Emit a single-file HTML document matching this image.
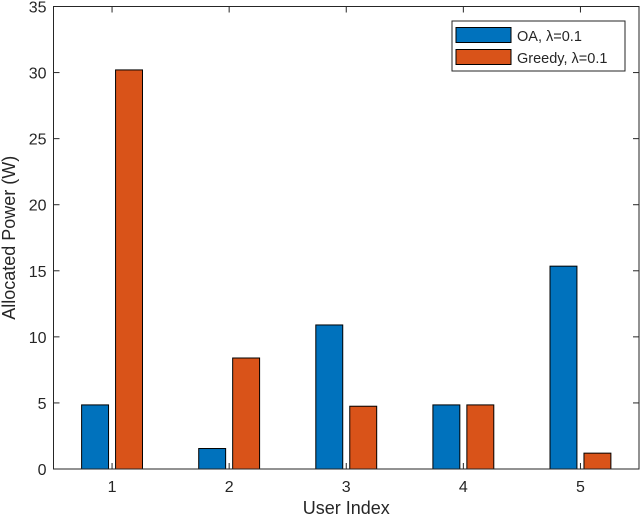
<!DOCTYPE html>
<html><head><meta charset="utf-8"><style>
body{margin:0;background:#fff}
text{font-family:"Liberation Sans",Arial,sans-serif;fill:#262626}
</style></head><body>
<svg id="chart" width="640" height="522" viewBox="0 0 640 522" xmlns="http://www.w3.org/2000/svg">
<rect width="640" height="522" fill="#fff"/>
<g id="plot"></g>
</svg>
<script>
const categories = [1, 2, 3, 4, 5];
const oaValues = [4.85, 1.55, 10.9, 4.85, 15.35];
const greedyValues = [30.2, 8.4, 4.75, 4.85, 1.2];
const yTicks = [0, 5, 10, 15, 20, 25, 30, 35];
const seriesNames = ["OA, \u03bb=0.1", "Greedy, \u03bb=0.1"];

const L = 53.5, R = 639, T = 6.5, B = 469;
const ns = "http://www.w3.org/2000/svg";
const g = document.getElementById('plot');
const x = v => L + (v - 0.5) / 5 * (R - L);
const y = v => B - v / 35 * (B - T);
function mk(tag, attrs, parent) {
  const e = document.createElementNS(ns, tag);
  for (const k in attrs) e.setAttribute(k, attrs[k]);
  (parent || g).appendChild(e);
  return e;
}
const bw = 0.23, off = 0.145;
categories.forEach((c, i) => {
  const b1 = mk('rect', {x: x(c - off - bw/2), y: y(oaValues[i]), width: x(bw) - x(0), height: y(0) - y(oaValues[i]), fill: '#0072BD', stroke: '#000', 'stroke-width': 1});
  
  
  const b2 = mk('rect', {x: x(c + off - bw/2), y: y(greedyValues[i]), width: x(bw) - x(0), height: y(0) - y(greedyValues[i]), fill: '#D95319', stroke: '#000', 'stroke-width': 1});
  
  
});
const box = mk('rect', {x: L, y: T, width: R - L, height: B - T, fill: 'none', stroke: '#262626', 'stroke-width': 1});


categories.forEach(c => {
  mk('line', {x1: x(c), x2: x(c), y1: B, y2: B - 6, stroke: '#262626'});
  mk('line', {x1: x(c), x2: x(c), y1: T, y2: T + 6, stroke: '#262626'});
  const t = mk('text', {x: x(c), y: B + 23, 'text-anchor': 'middle', 'font-size': 16});
  t.textContent = c;
  
  
});
yTicks.forEach(v => {
  mk('line', {x1: L, x2: L + 6, y1: y(v), y2: y(v), stroke: '#262626'});
  mk('line', {x1: R, x2: R - 6, y1: y(v), y2: y(v), stroke: '#262626'});
  const t = mk('text', {x: L - 7, y: y(v) + 6, 'text-anchor': 'end', 'font-size': 16});
  t.textContent = v;
  
  
});
const xt = mk('text', {x: (L + R) / 2, y: 514, 'text-anchor': 'middle', 'font-size': 18});
xt.textContent = 'User Index';


const yt = mk('text', {x: 0, y: 0, 'text-anchor': 'middle', 'font-size': 18, transform: 'translate(15,' + ((T + B) / 2) + ') rotate(-90)'});
yt.textContent = 'Allocated Power (W)';


const lg = mk('g', {});


mk('rect', {x: 452, y: 21, width: 173, height: 50, fill: '#fff', stroke: '#262626', 'stroke-width': 1}, lg);
const cols = ['#0072BD', '#D95319'];
seriesNames.forEach((n, i) => {
  const sw = mk('rect', {x: 456, y: 27.5 + i * 22, width: 55, height: 15, fill: cols[i], stroke: '#000'}, lg);
  
  
  const t = mk('text', {x: 517, y: 41 + i * 22, 'font-size': 14.5}, lg);
  t.textContent = n;
  
  
});
</script>
</body></html>
